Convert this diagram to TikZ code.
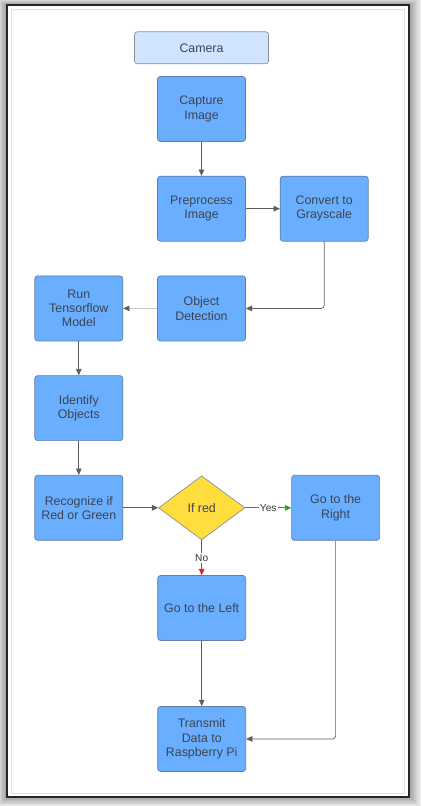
\documentclass[tikz,border=0pt]{standalone}
\usepackage{fontspec}
\setmainfont{Liberation Sans}
\usepackage{xcolor}
\definecolor{boxblue}{HTML}{6AAEFF}
\definecolor{boxedge}{HTML}{5F7FA6}
\definecolor{camfill}{HTML}{D0E4FF}
\definecolor{camedge}{HTML}{8A9099}
\definecolor{decyellow}{HTML}{FFDD3C}
\definecolor{txtgray}{HTML}{3B4452}
\definecolor{arrgray}{HTML}{5A5E66}
\definecolor{yesgreen}{HTML}{2E9B2E}
\definecolor{nored}{HTML}{EC1C24}
\definecolor{pageedge}{HTML}{DDE3EA}
\usetikzlibrary{
  positioning,
  arrows.meta,
  shapes.geometric
}

\begin{document}
\begin{tikzpicture}[
  >={Triangle[length=4.5pt,width=4pt]},
  node distance=0.85cm,
  proc/.style={
    rectangle, rounded corners=2pt, minimum width=2.2cm, minimum height=1.625cm,
    inner sep=1pt, align=center, font=\fontsize{8.8}{10.2}\selectfont,
    text=txtgray, draw=boxedge, line width=0.5pt, fill=boxblue
  },
  cam/.style={
    rectangle, rounded corners=2pt, minimum width=3.35cm, minimum height=0.8cm,
    align=center, font=\fontsize{8.8}{10.2}\selectfont,
    text=txtgray, draw=camedge, line width=0.5pt, fill=camfill
  },
  decision/.style={
    diamond, minimum width=2.16cm, minimum height=1.6cm, inner sep=0pt,
    align=center, font=\fontsize{8.8}{10.2}\selectfont,
    text=txtgray, draw=camedge, line width=0.5pt, fill=decyellow
  },
  arr/.style={->, draw=arrgray, line width=0.5pt},
  lbl/.style={fill=white, inner sep=1pt, text=black!80,
    font=\fontsize{7.2}{8}\selectfont}
]

\useasboundingbox (0,0) rectangle (10.55,-20.15);

% page frame with shadow
\foreach \s in {0.04,0.08,...,0.32}
  \fill[black, opacity=0.06] (0.175-\s,-0.125+0.6*\s)
    rectangle (10.225+1.1*\s,-19.925-0.9*\s);
\fill[white] (0.175,-0.125) rectangle (10.225,-19.925);
\draw[pageedge, line width=0.6pt] (0.275,-0.225) rectangle (10.1,-19.825);
\draw[black!85, line width=1.1pt] (0.175,-0.125) rectangle (10.225,-19.925);

% boxes
\node[proc] (capture) at (5.0375,-2.725) {Capture\\Image};
\node[cam, above=0.3cm of capture] (camera) {Camera};
\node[proc, below=of capture] (prep) {Preprocess\\Image};
\node[proc, right=of prep] (gray) {Convert to\\Grayscale};
\node[proc, below=of prep] (detect) {Object\\Detection};
\node[proc, left=of detect] (tfmodel) {Run\\Tensorflow\\Model};
\node[proc, below=of tfmodel] (ident) {Identify\\Objects};
\node[proc, below=of ident] (recog) {Recognize if\\Red or Green};
\node[decision, right=0.875cm of recog] (ifred) {If red};
\node[proc, right=1.15cm of ifred] (goright) {Go to the\\Right};
\node[proc, below=0.875cm of ifred] (goleft) {Go to the Left};
\node[proc, below=1.63cm of goleft] (transmit) {Transmit\\Data to\\Raspberry Pi};

% connectors
\draw[arr] (capture) -- (prep);
\draw[arr] (prep) -- (gray);
\draw[arr, rounded corners=2pt] (gray.south) |- (detect.east);
\draw[arr, draw=black!22, -{Triangle[length=4.5pt,width=4pt,color=arrgray]}]
  (detect) -- (tfmodel);
\draw[arr] (tfmodel) -- (ident);
\draw[arr] (ident) -- (recog);
\draw[arr] (recog) -- (ifred);
\draw[arr, draw=yesgreen] (ifred) -- node[lbl] {Yes} (goright);
\draw[arr, draw=nored] (ifred) -- node[lbl] {No} (goleft);
\draw[arr] (goleft) -- (transmit);
\draw[arr, rounded corners=2pt] (goright.south) |- (transmit.east);

\end{tikzpicture}
\end{document}
